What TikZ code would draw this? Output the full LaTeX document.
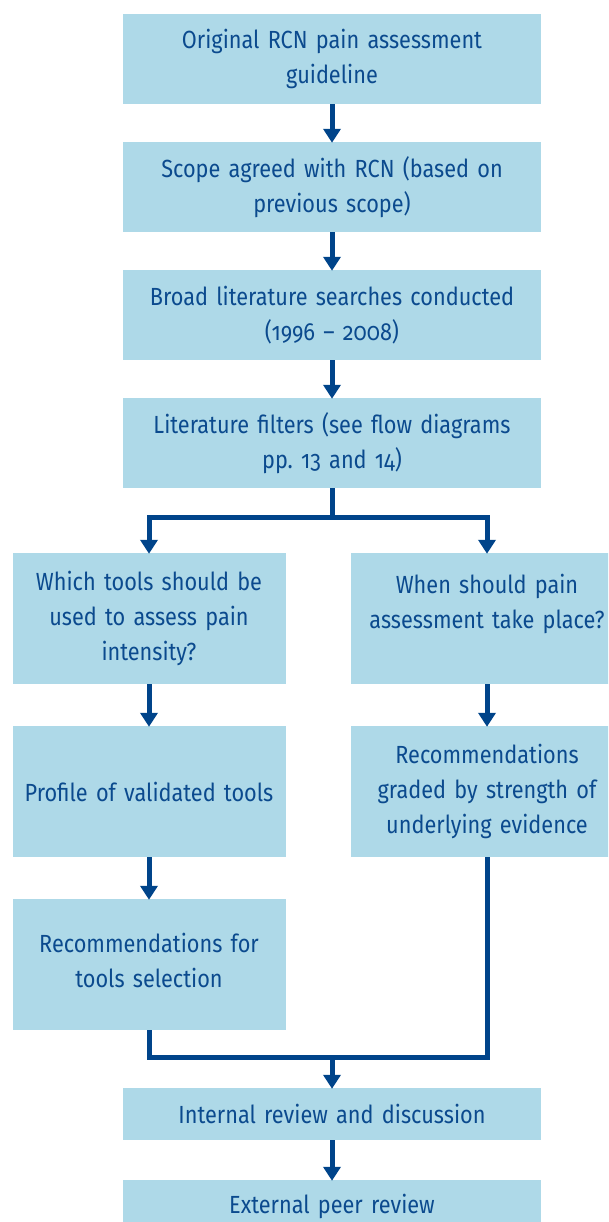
\documentclass[tikz,border=0pt]{standalone}
\usepackage{fontspec}
\setmainfont{Fira Sans}[Numbers=OldStyle, RawFeature=+onum, FakeStretch=0.875]
\usetikzlibrary{arrows.meta}
\definecolor{boxblue}{HTML}{AED9E8}
\definecolor{txtblue}{HTML}{0B4A8E}
\definecolor{arrblue}{HTML}{00448A}
\tikzset{
  txt/.style={text=txtblue, align=center, inner sep=0pt, font=\fontsize{24.8}{35}\selectfont},
  box/.style={txt, fill=boxblue, draw=none},
  wide/.style={box, minimum width=418pt, minimum height=90pt, text width=410pt},
  col/.style={box, minimum width=273pt, minimum height=131pt, text width=265pt},
  conn/.style={arrblue, line width=5pt, line join=miter},
  arr/.style={conn, -{Triangle[width=17pt,length=14pt]}, shorten >=-1pt},
}
\begin{document}
\begin{tikzpicture}[x=1pt,y=-1pt]
\useasboundingbox (0,0) rectangle (608,1222);
\clip (0,0) rectangle (608,1222);
\node[wide] (b1) at (332,59) {Original RCN pain assessment\\guideline};
\node[wide] (b2) at (332,187) {Scope agreed with RCN (based on\\previous scope)};
\node[wide] (b3) at (332,315) {Broad literature searches conducted\\(1996 -- 2008)};
\node[wide] (b4) at (332,443) {Literature filters (see flow diagrams\\pp.\ 13 and 14)};
\node[col] (b5) at (149,618.5) {Which tools should be\\used to assess pain\\intensity?};
\node[col] (b6) at (487,618.5) {};
\node[txt, text width=265pt] (b6t) at (487,603.5) {When should pain\\assessment take place?};
\node[col] (b7) at (149,791.5) {Profile of validated tools};
\node[col] (b8) at (487,791.5) {Recommendations\\graded by strength of\\underlying evidence};
\node[col] (b9) at (149,964.5) {};
\node[txt, text width=265pt] (b9t) at (149,960) {Recommendations for\\tools selection};
\node[box, minimum width=418pt, minimum height=52pt, text width=410pt] (b10) at (332,1114) {Internal review and discussion};
\node[box, minimum width=418pt, minimum height=52pt, text width=410pt] (b11) at (332,1206) {External peer review};
\coordinate (s) at (332,517);
\coordinate (m) at (332,1057);
\draw[arr] (b1) -- (b2);
\draw[arr] (b2) -- (b3);
\draw[arr] (b3) -- (b4);
\draw[conn] (b4.south) -- (s);
\draw[arr] (s) -| (b5.north);
\draw[arr] (s) -| (b6.north);
\draw[arr] (b5) -- (b7);
\draw[arr] (b7) -- (b9);
\draw[arr] (b6) -- (b8);
\draw[conn] (b9.south) |- (m);
\draw[conn] (b8.south) |- (m);
\draw[arr] (m) -- (b10);
\draw[arr] (b10) -- (b11);
\end{tikzpicture}
\end{document}
